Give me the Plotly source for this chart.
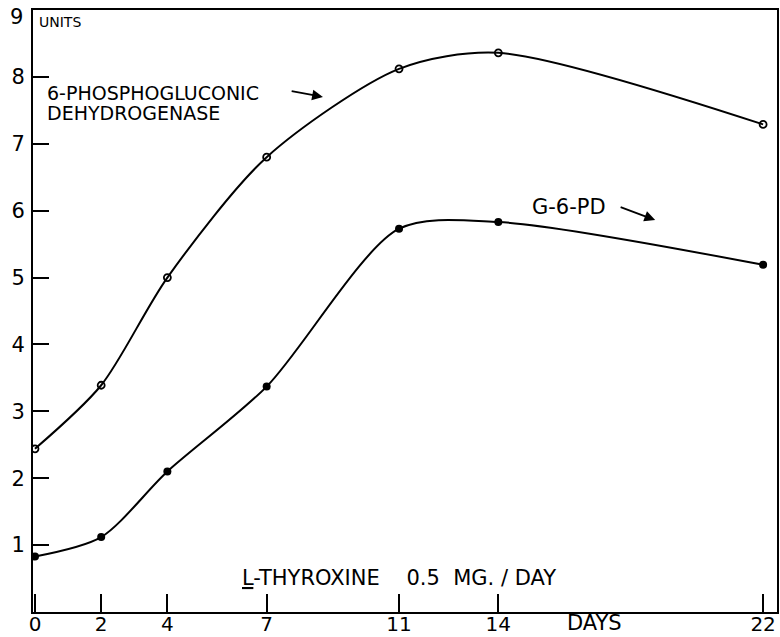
import plotly.graph_objects as go

days = [0, 2, 4, 7, 11, 14, 22]
pgd_6 = [2.44, 3.39, 5.0, 6.8, 8.12, 8.36, 7.29]
g6pd = [0.83, 1.12, 2.1, 3.37, 5.73, 5.83, 5.19]
x_ticks = [0, 2, 4, 7, 11, 14, 22]
y_ticks = [1, 2, 3, 4, 5, 6, 7, 8]
y_top_label = 9

FONT = "DejaVu Sans"

fig = go.Figure()
fig.add_trace(go.Scatter(
    x=days, y=pgd_6, mode="lines+markers",
    line=dict(color="black", width=2, shape="spline", smoothing=0.8),
    marker=dict(symbol="circle-open", size=7, color="black", line=dict(width=1.8)),
    showlegend=False))
fig.add_trace(go.Scatter(
    x=days, y=g6pd, mode="lines+markers",
    line=dict(color="black", width=2, shape="spline", smoothing=0.8),
    marker=dict(symbol="circle", size=8, color="black"),
    showlegend=False))

ann_font = dict(family=FONT, size=19, color="black")
anns = [
    dict(x=0.06, y=8.82, text="UNITS", xanchor="left", yanchor="middle",
         font=dict(family=FONT, size=14, color="black")),
    dict(x=0.3, y=7.76, text="6-PHOSPHOGLUCONIC", xanchor="left", yanchor="middle", font=ann_font),
    dict(x=0.3, y=7.46, text="DEHYDROGENASE", xanchor="left", yanchor="middle", font=ann_font),
    dict(x=14.96, y=6.05, text="G-6-PD", xanchor="left", yanchor="middle",
         font=dict(family=FONT, size=21, color="black")),
    dict(x=6.2, y=0.51, text="<u>L</u>-THYROXINE    0.5  MG. / DAY", xanchor="left", yanchor="middle",
         font=dict(family=FONT, size=21, color="black")),
]
for a in anns:
    fig.add_annotation(xref="x", yref="y", showarrow=False, **a)

# top y label (9) sits just below the frame, without a tick
fig.add_annotation(x=-0.011, y=y_top_label - 0.1, xref="paper", yref="y", text=str(y_top_label),
                   showarrow=False, xanchor="right", yanchor="middle",
                   font=dict(family=FONT, size=21, color="black"))

fig.add_annotation(x=16.92, y=-0.018, xref="x", yref="paper", text="DAYS", showarrow=False,
                   xanchor="center", yanchor="middle", font=dict(family=FONT, size=21, color="black"))

# arrows
fig.add_annotation(x=8.70, y=7.70, ax=7.71, ay=7.79, xref="x", yref="y", axref="x", ayref="y",
                   text="", showarrow=True, arrowhead=2, arrowsize=1.2, arrowwidth=1.8, arrowcolor="black")
fig.add_annotation(x=18.74, y=5.86, ax=17.65, ay=6.06, xref="x", yref="y", axref="x", ayref="y",
                   text="", showarrow=True, arrowhead=2, arrowsize=1.2, arrowwidth=1.8, arrowcolor="black")

fig.update_layout(
    width=780, height=637,
    margin=dict(l=33, r=3, t=10, b=25, autoexpand=False),
    paper_bgcolor="white", plot_bgcolor="white",
    font=dict(family=FONT, size=20, color="black"),
    xaxis=dict(range=[-0.06, 22.42], tickvals=x_ticks, ticktext=[str(v) for v in x_ticks],
               ticks="inside", ticklen=18, tickwidth=2, tickcolor="black",
               showline=True, linecolor="black", linewidth=2, mirror=True, automargin=False,
               ticklabelstandoff=-7,
               showgrid=False, zeroline=False, tickfont=dict(size=20)),
    yaxis=dict(range=[0, 9.0], tickvals=y_ticks, ticktext=[str(v) for v in y_ticks],
               ticks="inside", ticklen=16, tickwidth=2, tickcolor="black",
               showline=True, linecolor="black", linewidth=2, mirror=True, automargin=False,
               ticklabelstandoff=2,
               showgrid=False, zeroline=False, tickfont=dict(size=21)),
)

fig.write_html("out.html", config={"displayModeBar": False},
               post_script="document.body.style.margin='0';")
